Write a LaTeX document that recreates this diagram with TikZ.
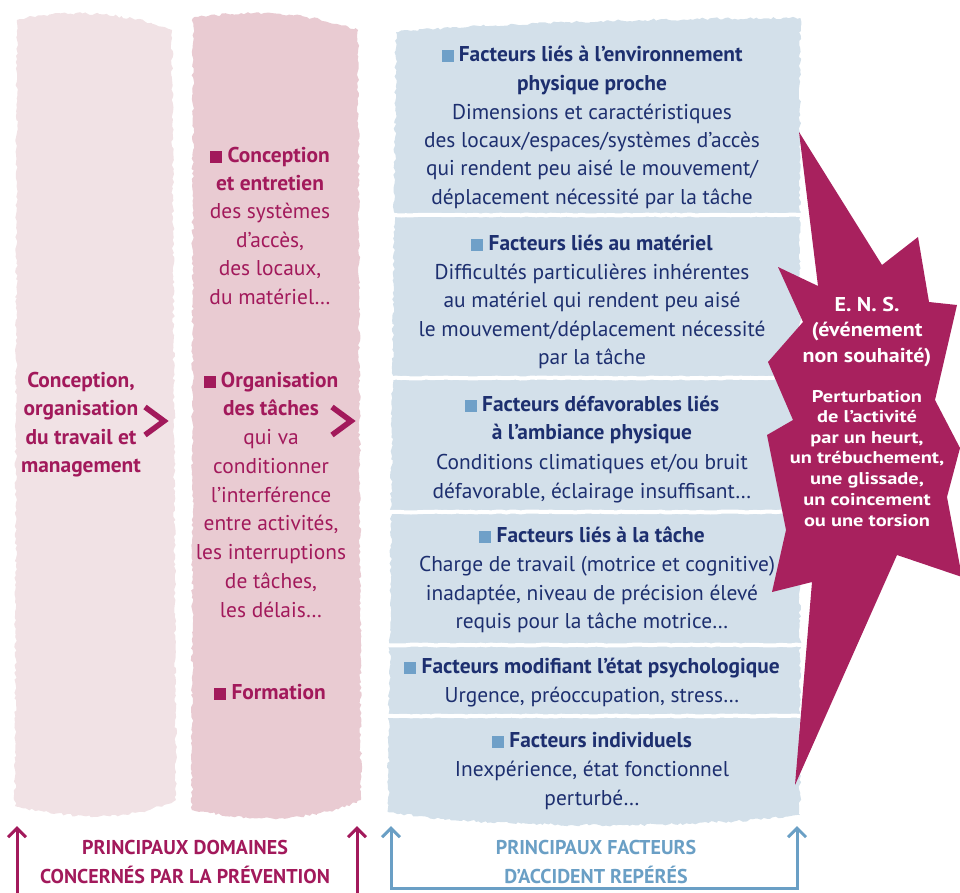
\documentclass[tikz,border=0pt]{standalone}
\usepackage{fontspec}
\setmainfont{PT Sans}
\usetikzlibrary{decorations.pathmorphing,arrows.meta}
\definecolor{mag}{HTML}{A2195B}
\definecolor{navy}{HTML}{1D2F6F}
\definecolor{colA}{HTML}{F1E2E5}
\definecolor{colB}{HTML}{E9CBD2}
\definecolor{colC}{HTML}{D3E0EA}
\definecolor{bul}{HTML}{6FA0C8}
\definecolor{brk}{HTML}{6A9FC5}
\definecolor{star}{HTML}{A8215E}
\newcommand{\bsq}[1]{{\color{#1}\rule{0.56em}{0.56em}}\hspace{0.25em}}
\begin{document}
\begin{tikzpicture}[x=1pt,y=-1pt,
  rag/.style={decorate,decoration={random steps,segment length=3pt,amplitude=1.3pt}},
  bl/.style={font=\fontsize{21.4}{25}\selectfont, text=navy, anchor=mid, inner sep=0},
  blh/.style={font=\fontsize{21.4}{25}\selectfont\bfseries, text=navy, anchor=mid, inner sep=0},
  pk/.style={font=\fontsize{21.4}{25}\selectfont, text=mag, anchor=mid, inner sep=0},
  pkh/.style={font=\fontsize{21.4}{25}\selectfont\bfseries, text=mag, anchor=mid, inner sep=0},
  en/.style={font=\fontsize{20}{23}\selectfont\bfseries\addfontfeature{FakeStretch=1.1}, text=white, anchor=mid, inner sep=0},
  es/.style={font=\fontsize{17}{20}\selectfont\bfseries\addfontfeature{FakeStretch=1.2}, text=white, anchor=mid, inner sep=0},
  bot/.style={font=\fontsize{20}{23}\selectfont\bfseries, anchor=mid, inner sep=0},
  chev/.style={mag, line width=5.5pt, line cap=butt, line join=miter},
  tip/.tip={Straight Barb[length=9pt,width=18pt,line width=3pt]},
  up/.style={-tip, line width=3pt}
]
\pgfmathsetseed{7}
\useasboundingbox (0,0) rectangle (960,892);
% columns
\fill[colA, rag] (17,20) .. controls (60,10) and (120,10) .. (172,30) -- (176,800) .. controls (140,815) and (100,825) .. (15,806) -- cycle;
\fill[colB, rag] (193,18) .. controls (240,10) and (300,10) .. (358,30) -- (361,800) .. controls (320,818) and (270,825) .. (192,810) -- cycle;
\fill[colC, rag] (396,32) .. controls (500,22) and (700,18) .. (800,18) -- (800,815) .. controls (700,828) and (500,830) .. (388,812) -- cycle;
% separators
\foreach \yy in {215,378,512,645,716}
  \draw[white, line width=4pt, decorate, decoration={random steps,segment length=5pt,amplitude=0.5pt}] (386,\yy) -- (802,\yy);
% star
\fill[star] (799,132) -- (882,265) -- (918,237) -- (929,302) -- (957,305) -- (935,400) -- (960,448) -- (947,497) -- (962,577) -- (897,555) -- (795,785) -- (812,582) -- (772,592) -- (786,530) -- (767,435) -- (793,420) -- (768,362) -- (803,322) -- (778,267) -- (818,286) -- cycle;
\begin{scope}[shift={(0,5)}]
% column 1
\node[pkh] (c1a) at (81,380) {Conception,};
\node[pkh] (c1b) at (81,408) {organisation};
\node[pkh] (c1c) at (81,437) {du travail et};
\node[pkh] (c1d) at (81,465) {management};
% column 2
\node[pkh] (c2a) at (270,155) {\bsq{mag}Conception};
\node[pkh] (c2b) at (270,183) {et entretien};
\node[pk] (c2c) at (270,211) {des systèmes};
\node[pk] (c2d) at (270,240) {d’accès,};
\node[pk] (c2e) at (270,268) {des locaux,};
\node[pk] (c2f) at (270,297) {du matériel…};
\node[pkh] (c2g) at (271,380) {\bsq{mag}Organisation};
\node[pkh] (c2h) at (271,408) {des tâches};
\node[pk] (c2i) at (271,437) {qui va};
\node[pk] (c2j) at (271,466) {conditionner};
\node[pk] (c2k) at (271,495) {l’interférence};
\node[pk] (c2l) at (271,523) {entre activités,};
\node[pk] (c2m) at (271,552) {les interruptions};
\node[pk] (c2n) at (271,581) {de tâches,};
\node[pk] (c2o) at (271,610) {les délais…};
\node[pkh] (c2p) at (270,692) {\bsq{mag}Formation};
% blue column
\node[blh] (b1a) at (592,54) {\bsq{bul}Facteurs liés à l’environnement};
\node[blh] (b1b) at (592,83) {physique proche};
\node[bl] (b1c) at (592,112) {Dimensions et caractéristiques};
\node[bl] (b1d) at (592,140) {des locaux/espaces/systèmes d’accès};
\node[bl] (b1e) at (592,168) {qui rendent peu aisé le mouvement/};
\node[bl] (b1f) at (592,197) {déplacement nécessité par la tâche};
\node[blh] (b2a) at (592,243) {\bsq{bul}Facteurs liés au matériel};
\node[bl] (b2b) at (592,272) {Difficultés particulières inhérentes};
\node[bl] (b2c) at (592,300) {au matériel qui rendent peu aisé};
\node[bl] (b2d) at (592,329) {le mouvement/déplacement nécessité};
\node[bl] (b2e) at (592,357) {par la tâche};
\node[blh] (b3a) at (592,404) {\bsq{bul}Facteurs défavorables liés};
\node[blh] (b3b) at (592,432) {à l’ambiance physique};
\node[bl] (b3c) at (592,462) {Conditions climatiques et/ou bruit};
\node[bl] (b3d) at (592,491) {défavorable, éclairage insuffisant…};
\node[blh] (b4a) at (592,535) {\bsq{bul}Facteurs liés à la tâche};
\node[bl] (b4b) at (597,564) {Charge de travail (motrice et cognitive)};
\node[bl] (b4c) at (592,593) {inadaptée, niveau de précision élevé};
\node[bl] (b4d) at (592,621) {requis pour la tâche motrice…};
\node[blh] (b5a) at (592,666) {\bsq{bul}Facteurs modifiant l’état psychologique};
\node[bl] (b5b) at (592,695) {Urgence, préoccupation, stress…};
\node[blh] (b6a) at (592,740) {\bsq{bul}Facteurs individuels};
\node[bl] (b6b) at (592,769) {Inexpérience, état fonctionnel};
\node[bl] (b6c) at (592,798) {perturbé…};
% star text
\node[en] (s1) at (867,304) {E. N. S.};
\node[en] (s2) at (867,329) {(événement};
\node[en] (s3) at (867,355) {non souhaité)};
\node[es] (s4) at (867,395) {Perturbation};
\node[es] (s5) at (867,415) {de l’activité};
\node[es] (s6) at (867,436) {par un heurt,};
\node[es] (s7) at (867,456) {un trébuchement,};
\node[es] (s8) at (867,477) {une glissade,};
\node[es] (s9) at (867,498) {un coincement};
\node[es] (s10) at (867,519) {ou une torsion};
% bottom labels
\node[bot, text=mag] (p1) at (185,847) {PRINCIPAUX DOMAINES};
\node[bot, text=mag] (p2) at (185,876) {CONCERNÉS PAR LA PRÉVENTION};
\node[bot, text=brk] (f1) at (596,847) {PRINCIPAUX FACTEURS};
\node[bot, text=brk] (f2) at (596,876) {D’ACCIDENT REPÉRÉS};
\end{scope}
% chevrons
\draw[chev] (145,407) -- (164,421) -- (145,435);
\draw[chev] (332,407) -- (351,421) -- (332,435);
% arrows
\coordinate (la0) at (17,895); \coordinate (la1) at (17,826);
\coordinate (ra0) at (357,895); \coordinate (ra1) at (357,826);
\coordinate (ba1) at (391,826); \coordinate (bb) at (391,888);
\coordinate (bc) at (797,888); \coordinate (bd1) at (797,826);
\draw[up, mag] (la0) -- (la1);
\draw[up, mag] (ra0) -- (ra1);
\draw[brk, line width=3pt, tip-tip] (ba1) -- (bb) -- (bc) -- (bd1);
\end{tikzpicture}
\end{document}
